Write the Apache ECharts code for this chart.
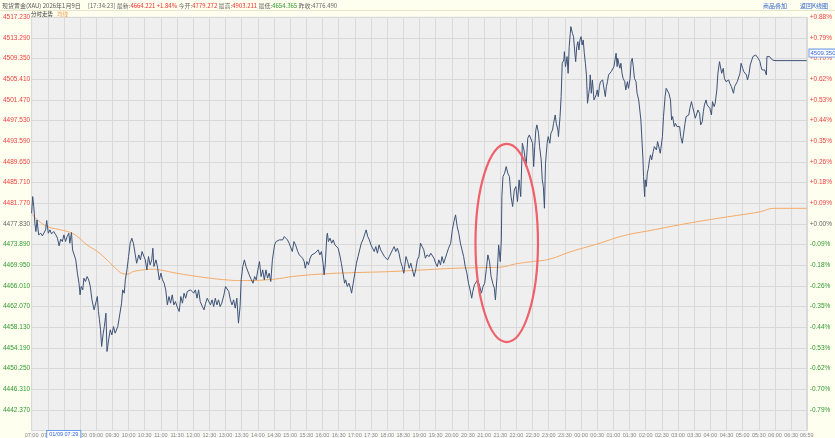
<!DOCTYPE html>
<html><head><meta charset="utf-8">
<script src="https://cdn.jsdelivr.net/npm/echarts@6/dist/echarts.min.js"></script>
<style>html,body{margin:0;padding:0;background:#fffff0}#c{width:835px;height:438px}</style>
</head><body><div id="c"></div>
<script>
// ---- data (minutes since 07:00, price) ----
const prevClose = 4477.83;
const yMin = 4438.43, yMax = 4517.23, yStep = 3.94;
const xMax = 1439, xStep = 30;

const priceDay = [[0,4479.87],[2,4483.04],[4,4481.14],[5,4479.87],[6,4477.96],[8,4476.37],[10,4478.59],[13,4475.74],[17,4476.05],[20,4475.55],[23,4475.74],[26,4476.69],[28,4478.47],[31,4476.05],[34,4476.69],[37,4475.93],[41,4476.37],[45,4475.74],[48,4475.10],[51,4473.64],[54,4474.91],[57,4474.47],[60,4475.74],[63,4474.47],[66,4475.42],[69,4476.05],[71,4474.15],[74,4476.18],[76,4472.88],[79,4472.56],[82,4470.97],[85,4468.43],[88,4466.52],[90,4464.30],[92,4465.89],[95,4465.25],[97,4467.48],[100,4466.84],[103,4467.79],[106,4467.16],[109,4465.89],[112,4463.35],[116,4461.44],[119,4461.76],[122,4463.98],[124,4461.12],[126,4459.53],[128,4457.63],[130,4454.45],[133,4456.99],[135,4458.26],[138,4460.80],[140,4453.50],[143,4455.72],[146,4457.63],[149,4456.67],[152,4458.26],[155,4456.99],[158,4457.31],[160,4458.26],[164,4460.80],[167,4462.71],[169,4465.25],[172,4464.62],[174,4467.16],[177,4469.06],[180,4471.61],[183,4474.15],[186,4475.10],[189,4474.15],[192,4472.24],[195,4470.33],[199,4471.92],[202,4470.97],[205,4472.56],[208,4472.88],[211,4470.97],[214,4469.06],[217,4471.61],[220,4470.02],[223,4470.97],[225,4473.19],[227,4469.70],[231,4470.97],[234,4469.38],[237,4467.16],[240,4468.43],[243,4467.16],[246,4466.52],[249,4465.25],[252,4462.39],[255,4463.98],[258,4462.71],[261,4464.30],[264,4462.39],[267,4463.03],[270,4462.07],[274,4461.12],[277,4463.98],[280,4462.71],[283,4464.62],[286,4463.66],[289,4464.93],[292,4464.62],[295,4465.25],[298,4464.93],[301,4464.62],[304,4465.25],[307,4463.66],[310,4465.25],[313,4463.03],[317,4462.07],[320,4461.44],[323,4462.71],[326,4463.66],[329,4463.35],[332,4462.39],[335,4463.35],[338,4462.07],[341,4463.66],[344,4462.39],[347,4463.35],[350,4462.07],[353,4462.71],[357,4464.30],[360,4465.89],[363,4465.57],[366,4464.93],[369,4463.35],[372,4462.39],[375,4463.35],[378,4461.76],[381,4463.66],[384,4458.90],[387,4462.07],[389,4467.16],[392,4469.70],[395,4470.97],[398,4469.70],[401,4469.38],[404,4468.11],[408,4467.16],[411,4466.52],[414,4467.79],[417,4467.16],[420,4469.06],[423,4470.65],[426,4467.79],[429,4469.06],[432,4467.16],[435,4469.06],[438,4467.48],[441,4468.43],[444,4466.84],[447,4470.97],[451,4473.83],[454,4474.47],[457,4474.15],[460,4474.78],[463,4475.10],[466,4474.78],[469,4475.42],[472,4475.74],[475,4474.78],[478,4474.15],[481,4473.83],[484,4472.56],[487,4474.47]];

const priceEvening = [[490,4473.83],[494,4472.56],[497,4471.92],[500,4472.24],[503,4471.29],[506,4470.65],[508,4469.38],[511,4470.65],[514,4470.02],[517,4471.29],[520,4471.92],[523,4471.60],[526,4472.24],[529,4471.92],[532,4472.88],[535,4471.92],[538,4472.56],[541,4470.33],[543,4468.11],[545,4470.02],[548,4475.42],[549,4476.05],[551,4474.46],[554,4475.10],[557,4474.15],[560,4474.78],[563,4473.83],[566,4474.15],[569,4473.19],[572,4471.92],[575,4470.33],[578,4468.43],[581,4466.52],[583,4467.16],[586,4465.89],[589,4466.52],[592,4465.57],[594,4464.62],[597,4466.52],[600,4468.43],[603,4470.33],[606,4471.60],[609,4472.88],[612,4474.15],[615,4474.78],[618,4475.73],[621,4476.69],[624,4475.42],[627,4474.78],[630,4473.83],[633,4474.15],[636,4472.56],[639,4473.51],[642,4472.24],[645,4473.83],[648,4472.88],[651,4472.56],[655,4471.60],[658,4471.92],[661,4470.97],[664,4471.60],[667,4471.29],[670,4472.88],[673,4473.51],[676,4472.56],[679,4473.19],[682,4472.24],[685,4470.65],[688,4469.70],[691,4468.43],[695,4471.60],[698,4470.65],[701,4469.38],[704,4470.33],[707,4469.06],[710,4467.79],[713,4469.06],[716,4470.97],[719,4471.60],[722,4474.15],[725,4473.51],[728,4472.88],[731,4471.29],[734,4471.92],[738,4471.60],[741,4472.24],[744,4471.92],[747,4471.29],[750,4470.33],[753,4469.70],[756,4470.97],[759,4470.02],[762,4471.60],[765,4470.33],[768,4470.65],[771,4472.24],[774,4473.19],[778,4474.15],[781,4476.69],[784,4478.28],[787,4479.55],[790,4477.32],[793,4476.05],[796,4474.15],[799,4473.83],[802,4471.60],[805,4469.70],[808,4468.43],[811,4466.52],[814,4465.25],[817,4463.66],[818,4463.34],[819,4464.93],[822,4466.20],[825,4465.89],[828,4467.16],[832,4465.89],[835,4464.62],[838,4465.89],[841,4466.52],[844,4469.06],[847,4471.92],[850,4470.65],[853,4467.79],[856,4466.52],[859,4465.57],[861,4463.34],[864,4467.79],[867,4473.83],[870,4470.65],[872,4474.78],[873,4483.04],[875,4486.85],[878,4487.49],[881,4488.76],[882,4489.08],[884,4487.49],[887,4486.85],[890,4483.04],[893,4481.14],[896,4484.31],[899,4484.95],[902,4482.09],[905,4486.22],[908,4483.04],[911,4493.21],[914,4491.94],[918,4488.76],[921,4494.16],[924,4494.80]];

const priceNight = [[927,4494.48],[930,4493.21],[932,4488.76],[934,4492.57],[936,4495.75],[938,4496.71],[941,4495.12],[943,4492.57],[946,4490.03],[948,4486.22],[950,4484.95],[952,4480.82],[954,4489.40],[957,4493.21],[959,4494.48],[962,4493.21],[964,4495.12],[967,4495.75],[969,4497.02],[972,4498.61],[974,4497.02],[977,4495.75],[978,4494.48],[981,4498.29],[983,4502.11],[985,4508.46],[988,4509.10],[989,4510.68],[991,4507.82],[994,4509.73],[996,4506.55],[998,4511.64],[1000,4514.18],[1001,4515.45],[1004,4514.18],[1006,4513.54],[1008,4511.00],[1010,4508.78],[1012,4511.64],[1014,4512.59],[1016,4511.00],[1018,4512.91],[1020,4513.54],[1022,4511.95],[1024,4512.91],[1026,4510.37],[1028,4508.46],[1030,4506.24],[1032,4500.83],[1034,4500.52],[1036,4504.01],[1037,4506.24],[1039,4502.74],[1041,4505.28],[1044,4501.47],[1045,4501.15],[1048,4502.42],[1050,4503.38],[1052,4502.11],[1054,4504.01],[1056,4504.96],[1058,4504.64],[1060,4505.28],[1063,4503.38],[1065,4502.11],[1067,4504.01],[1069,4504.96],[1071,4506.24],[1073,4505.92],[1076,4506.87],[1077,4506.55],[1079,4507.19],[1081,4507.82],[1083,4509.10],[1085,4510.37],[1087,4507.82],[1088,4509.41],[1090,4509.73],[1092,4507.51],[1094,4508.46],[1096,4506.55],[1098,4505.60],[1101,4504.96],[1103,4503.38],[1106,4504.96],[1108,4503.69],[1111,4505.60],[1113,4508.78],[1115,4509.41],[1117,4507.82],[1119,4505.60],[1122,4504.96],[1124,4502.74],[1127,4501.47],[1129,4499.56],[1131,4497.66],[1133,4493.85],[1135,4490.03],[1136,4486.85],[1138,4483.04],[1139,4486.22],[1141,4484.95],[1143,4487.49],[1145,4488.44],[1147,4490.03],[1149,4490.99],[1151,4490.03],[1154,4491.62],[1156,4492.57],[1158,4492.89],[1160,4491.94],[1162,4493.53],[1165,4492.26],[1167,4491.30],[1170,4490.99],[1171,4494.48],[1173,4498.29],[1176,4502.11],[1178,4503.69],[1181,4503.38],[1183,4502.74],[1186,4501.47],[1188,4497.66],[1190,4498.29],[1193,4496.39],[1195,4497.02],[1198,4496.39],[1200,4496.71],[1203,4496.39],[1205,4494.48],[1208,4493.21],[1210,4494.80],[1213,4497.02],[1215,4498.29],[1218,4497.98],[1220,4498.61],[1222,4499.88],[1225,4501.15],[1227,4500.20],[1230,4498.93],[1232,4497.98],[1235,4498.29],[1237,4499.56],[1240,4498.93],[1242,4496.71],[1245,4497.34],[1247,4499.25],[1249,4500.52],[1252,4501.47],[1254,4500.52],[1257,4500.83],[1259,4499.88],[1262,4498.61],[1264,4501.15],[1267,4500.20],[1269,4500.83],[1272,4503.38],[1274,4506.55],[1277,4508.78],[1279,4508.46],[1281,4506.55],[1284,4507.51],[1286,4505.60],[1289,4504.96],[1291,4504.64],[1294,4505.28],[1296,4504.64],[1299,4504.01],[1301,4503.69],[1303,4502.74],[1305,4504.01],[1307,4504.33],[1310,4504.96],[1312,4505.28],[1315,4506.55],[1317,4508.46],[1320,4507.51],[1322,4506.87],[1324,4506.87],[1327,4506.24],[1329,4505.28],[1332,4506.55],[1334,4508.14],[1337,4509.10],[1339,4509.73],[1342,4509.86],[1344,4510.05],[1347,4509.86],[1349,4509.41],[1352,4508.78],[1354,4507.82],[1356,4507.19],[1359,4507.51],[1361,4507.19],[1364,4506.24],[1365,4509.73],[1368,4510.05],[1370,4509.73],[1372,4510.05],[1375,4509.10],[1377,4509.41],[1380,4508.97],[1439,4508.97]];

const avgLine = [[0,4479.87],[11,4478.59],[30,4477.32],[54,4476.69],[72,4476.18],[85,4475.42],[103,4473.83],[122,4472.56],[140,4470.97],[159,4469.06],[171,4468.30],[177,4468.24],[189,4468.75],[208,4469.06],[226,4469.19],[238,4469.06],[269,4468.43],[300,4467.92],[331,4467.48],[361,4467.16],[386,4467.03],[411,4467.03],[435,4467.16],[460,4467.41],[484,4467.79],[543,4468.30],[604,4468.55],[666,4468.74],[727,4469.06],[789,4469.38],[850,4469.51],[869,4469.57],[899,4470.21],[930,4470.65],[961,4471.10],[1000,4472.5],[1050,4474.0],[1100,4475.6],[1150,4476.6],[1200,4477.6],[1250,4478.5],[1300,4479.3],[1350,4480.1],[1380,4480.8],[1439,4480.8]];

const cursorMinute = 29, cursorLabel = '01/09 07:29';
const markerPrice = 4509.35;
const ellipseCenter = [882, 4474.2], ellipseRadius = [58, 18.9];

// ---- chart ----
const chart = echarts.init(document.getElementById('c'), null, {renderer:'canvas'});
const fmtTime = m => { const h = (7 + Math.floor(m/60)) % 24, mm = m % 60; return String(h).padStart(2,'0') + ':' + String(mm).padStart(2,'0'); };
const col = v => v > prevClose + 0.01 ? '#f04040' : (v < prevClose - 0.01 ? '#2f9a2f' : '#666');
const priceData = priceDay.concat(priceEvening, priceNight);

chart.setOption({
  animation: false,
  backgroundColor: '#fffff0',
  grid: {left: 29, right: 26, top: 17.3, bottom: 7.3, show: true, backgroundColor: '#efefef', borderColor: '#d4d4d4', borderWidth: 1},
  xAxis: {type: 'value', min: 0, max: xMax, interval: xStep,
    axisLine: {show: false}, axisTick: {show: false},
    splitLine: {show: true, lineStyle: {color: '#d9d9d9', width: 1}},
    axisLabel: {formatter: v => fmtTime(v), fontSize: 5.5, color: '#888', margin: 1.5, fontFamily: 'Liberation Sans'}},
  yAxis: [
    {type: 'value', min: yMin, max: yMax, interval: yStep, position: 'left',
      axisLine: {show: false}, axisTick: {show: false},
      splitLine: {show: true, lineStyle: {color: '#d9d9d9', width: 1}},
      axisLabel: {showMinLabel: false, margin: 1.5, fontSize: 6.5, fontFamily: 'Liberation Sans',
        formatter: v => v.toFixed(3), color: v => col(v)}},
    {type: 'value', min: yMin, max: yMax, interval: yStep, position: 'right',
      axisLine: {show: false}, axisTick: {show: false}, splitLine: {show: false},
      axisLabel: {showMinLabel: false, margin: 3, fontSize: 6.5, fontFamily: 'Liberation Sans',
        formatter: v => { const p = (v - prevClose) / prevClose * 100; return (p < -0.004 ? '-' : '+') + Math.abs(p).toFixed(2) + '%'; },
        color: v => col(v)}}
  ],
  series: [
    {type: 'line', name: '均线', data: avgLine, showSymbol: false, smooth: true, lineStyle: {color: '#f5a864', width: 1}, z: 2},
    {type: 'line', name: '分时', data: priceData, showSymbol: false, lineStyle: {color: '#3d5276', width: 1}, z: 3}
  ]
});

const c = chart.convertToPixel({gridIndex: 0}, ellipseCenter);
const e = chart.convertToPixel({gridIndex: 0}, [ellipseCenter[0] + ellipseRadius[0], ellipseCenter[1] - ellipseRadius[1]]);
const cx = chart.convertToPixel({xAxisIndex: 0}, cursorMinute);
const my = chart.convertToPixel({yAxisIndex: 0}, markerPrice);

const cjk = 'Noto Sans CJK SC';
chart.setOption({graphic: [
  {type: 'line', shape: {x1: 0, y1: 10.5, x2: 835, y2: 10.5}, style: {stroke: '#e6e6cc', lineWidth: 1}, silent: true},
  {type: 'rect', shape: {x: 29, y: 431, width: 780, height: 7}, style: {fill: '#f8f8f4'}, silent: true, z: -1},
  {type: 'text', x: 2, y: 5.5, style: {text: '现货黄金(XAU) 2026年1月9日', fill: '#555', fontSize: 6, fontFamily: cjk, verticalAlign: 'middle'}},
  {type: 'text', x: 88, y: 5.5, style: {
    text: '{g|[17:34:23] 最新:}{r|4664.221 +1.84%}{g| 今开:}{r|4779.272}{g| 最高:}{r|4903.211}{g| 最低:}{n|4654.365}{g| 昨收:}{g|4776.490}',
    fontSize: 6, fontFamily: cjk, verticalAlign: 'middle',
    rich: {g: {fill: '#666', fontSize: 6, fontFamily: cjk}, r: {fill: '#f03030', fontSize: 6, fontFamily: cjk}, n: {fill: '#2f9a2f', fontSize: 6, fontFamily: cjk}}}},
  {type: 'text', x: 763, y: 5.5, style: {text: '商品叠加', fill: '#3366cc', fontSize: 6, fontFamily: cjk, verticalAlign: 'middle'}},
  {type: 'text', x: 800, y: 5.5, style: {text: '返回K线图', fill: '#3366cc', fontSize: 6, fontFamily: cjk, verticalAlign: 'middle'}},
  {type: 'text', x: 31, y: 14, style: {text: '分时走势', fill: '#333', fontSize: 5.5, fontFamily: cjk, verticalAlign: 'middle'}},
  {type: 'text', x: 57, y: 14, style: {text: '均线', fill: '#f0a050', fontSize: 5.5, fontFamily: cjk, verticalAlign: 'middle'}},
  {type: 'ellipse', shape: {cx: c[0], cy: c[1], rx: e[0] - c[0], ry: c[1] - e[1]}, style: {fill: 'none', stroke: '#f0606a', lineWidth: 2.2}, z: 10},
  {type: 'text', x: cx, y: 434.5, z: 20, style: {text: cursorLabel, fill: '#3366dd', fontSize: 5.5, fontFamily: 'Liberation Sans', verticalAlign: 'middle',
    backgroundColor: '#ffffff', borderColor: '#6b9be8', borderWidth: 1, padding: [0.5, 2]}},
  {type: 'text', x: 809.5, y: my - 2, z: 20, style: {text: markerPrice.toFixed(3), fill: '#3366dd', fontSize: 6, fontFamily: 'Liberation Sans', verticalAlign: 'bottom',
    backgroundColor: '#ffffff', borderColor: '#6b9be8', borderWidth: 1, padding: [0.5, 1]}}
]});
</script>
</body></html>
